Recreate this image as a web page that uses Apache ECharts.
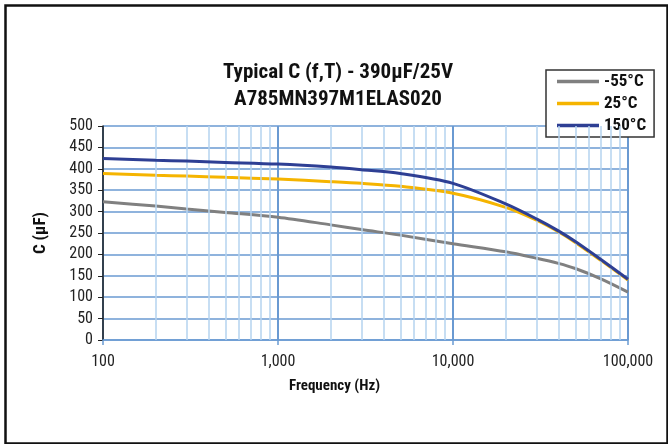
<!DOCTYPE html>
<html>
<head>
<meta charset="utf-8">
<script src="https://cdn.jsdelivr.net/npm/echarts@6/dist/echarts.min.js"></script>
<style>
html,body{margin:0;padding:0;background:#fff;}
#chart{width:668px;height:444px;}
</style>
</head>
<body>
<div id="chart"></div>
<script>
const freqs = [100, 200, 300, 500, 1000, 2000, 3000, 5000, 10000, 20000, 30000, 40000, 50000, 70000, 100000];
const capM55 = [323, 313, 306, 298, 287, 269, 258, 245, 225, 206, 191, 179, 167, 143, 112];
const cap25 = [389, 385, 383, 380, 376, 370, 366, 359, 343, 310, 280, 253, 228, 186, 140];
const cap150 = [424, 420, 418, 415, 411, 404, 398, 389, 366, 318, 283, 255, 230, 188, 142];
const seriesNames = ['-55°C', '25°C', '150°C'];
const minorTicks = [200, 300, 400, 500, 600, 700, 800, 900,
  2000, 3000, 4000, 5000, 6000, 7000, 8000, 9000,
  20000, 30000, 40000, 50000, 60000, 70000, 80000, 90000];

const FONT = '"Roboto Condensed", "Liberation Sans Narrow", "DejaVu Sans Condensed", Roboto, sans-serif';
const pair = arr => freqs.map((f, i) => [f, arr[i]]);

const chart = echarts.init(document.getElementById('chart'), null, {renderer: 'canvas'});
chart.setOption({
  animation: false,
  backgroundColor: '#fff',
  textStyle: {fontFamily: FONT},
  title: {
    text: 'Typical C (f,T) - 390µF/25V\nA785MN397M1ELAS020',
    left: 333, top: 54, textAlign: 'center',
    textStyle: {fontFamily: FONT, fontWeight: 'bold', fontSize: 21, lineHeight: 27, color: '#111'}
  },
  legend: {
    orient: 'vertical', left: 546, top: 70,
    padding: [3, 8, 3, 11],
    itemGap: 5, itemWidth: 42, itemHeight: 3.5,
    icon: 'rect',
    borderColor: '#333', borderWidth: 1.5,
    backgroundColor: '#fff',
    data: seriesNames,
    textStyle: {fontFamily: FONT, fontWeight: 'bold', fontSize: 17, lineHeight: 16, color: '#111'}
  },
  grid: {left: 103, right: 40, top: 126, bottom: 104, containLabel: false},
  xAxis: {
    type: 'log', logBase: 10, min: 100, max: 100000,
    name: 'Frequency (Hz)', nameLocation: 'middle', nameGap: 39,
    nameTextStyle: {fontFamily: FONT, fontWeight: 'bold', fontSize: 15, color: '#111', padding: [0, 62, 0, 0]},
    axisLine: {show: true, lineStyle: {color: '#6a9ad2', width: 1.5}},
    axisTick: {show: true, length: 5, lineStyle: {color: '#6a9ad2', width: 1.5}},
    axisLabel: {
      fontFamily: FONT, fontSize: 16, color: '#222', margin: 14,
      formatter: v => Number(v).toLocaleString('en-US')
    },
    splitLine: {show: true, lineStyle: {color: '#6a9ad2', width: 2}}
  },
  yAxis: {
    type: 'value', min: 0, max: 500, interval: 50,
    name: 'C (µF)', nameLocation: 'middle', nameGap: 54, nameRotate: 90,
    nameTextStyle: {fontFamily: FONT, fontWeight: 'bold', fontSize: 17, color: '#111'},
    axisLine: {show: true, lineStyle: {color: '#222', width: 1.5}},
    axisTick: {show: true, length: 5, lineStyle: {color: '#222', width: 1}},
    axisLabel: {fontFamily: FONT, fontSize: 16, color: '#222', margin: 10},
    splitLine: {show: true, lineStyle: {color: '#6a9ad2', width: 1.5}}
  },
  graphic: [{
    type: 'rect', left: 3, top: 3, silent: true, z: 100,
    shape: {width: 662, height: 438},
    style: {fill: 'none', stroke: '#111', lineWidth: 2.5}
  }],
  series: [
    {
      name: 'minor', type: 'line', data: [], silent: true, z: 1,
      markLine: {
        silent: true, symbol: 'none', label: {show: false},
        lineStyle: {color: '#b4d3ef', width: 1.5, type: 'solid'},
        data: minorTicks.map(v => ({xAxis: v}))
      }
    },
    {
      name: seriesNames[0], type: 'line', data: pair(capM55), smooth: 0.3,
      showSymbol: false, symbol: 'none', z: 3,
      lineStyle: {color: '#808080', width: 3}, itemStyle: {color: '#808080'}
    },
    {
      name: seriesNames[1], type: 'line', data: pair(cap25), smooth: 0.3,
      showSymbol: false, symbol: 'none', z: 4,
      lineStyle: {color: '#f5b400', width: 3}, itemStyle: {color: '#f5b400'}
    },
    {
      name: seriesNames[2], type: 'line', data: pair(cap150), smooth: 0.3,
      showSymbol: false, symbol: 'none', z: 5,
      lineStyle: {color: '#2e3f94', width: 3}, itemStyle: {color: '#2e3f94'}
    }
  ]
});
</script>
</body>
</html>
